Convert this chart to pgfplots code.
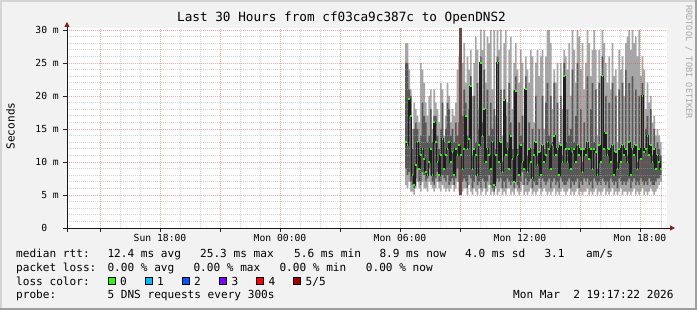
\documentclass[border=0pt]{standalone}
\usepackage{pgfplots}
\pgfplotsset{compat=1.18}
\usepackage{pgfplotstable}
\usepackage{fontspec}
\setmainfont{DejaVu Sans Mono}
\setmonofont{DejaVu Sans Mono}
\setsansfont{DejaVu Sans Mono}
\usetikzlibrary{arrows.meta}
\definecolor{bgc}{HTML}{F2F2F2}
\definecolor{shadeA}{HTML}{D4D4D4}
\definecolor{shadeB}{HTML}{9E9E9E}
\definecolor{smokeL}{HTML}{A6A6A6}
\definecolor{smokeD}{HTML}{585858}
\definecolor{medline}{HTML}{1E1E1E}
\definecolor{medgreen}{HTML}{26FF00}
\definecolor{mgrid}{HTML}{EE4444}
\definecolor{ngrid}{HTML}{A8A8A8}
\definecolor{arrowc}{HTML}{8B1A1A}
\definecolor{lossbar}{HTML}{6E4848}
\definecolor{lc1}{HTML}{00B8FF}
\definecolor{lc2}{HTML}{0059FF}
\definecolor{lc3}{HTML}{7E00FF}
\definecolor{lc4}{HTML}{FF0000}
\definecolor{lc5}{HTML}{A10000}
\definecolor{wmark}{HTML}{A8A8A8}

% k = 5-minute step index from Mon 06:15; p1..p5 = sorted DNS replies (ms)
\pgfplotstableread{
k p1 p2 p3 p4 p5
0 6.5 9 13 25 28
1 6 8 12.5 25 28
2 7 8.5 19.5 21 24
3 5.5 7 17 20 21
4 5.5 6.5 8 12 15
5 5 6 6.5 15 19
6 6 7.5 9.5 16 18
7 7 9 13 15 17
8 6 7 9 13 16
9 5.5 6.5 11 14 25
10 7 8.5 12 19 24
11 6 8 10.5 17 22
12 6 7 8.5 16 19
13 5.5 7.5 8 13 17
14 7 9 10 14 20
15 6.5 8 12 18 21
16 6 7 8 13 15
17 5.5 6.5 16 17 21
18 6 7.5 13 17 19
19 7 8.5 10 14 18
20 6 7 8 12 16
21 5.5 7 11 15 22
22 6.5 8 13.5 19 21
23 6 7.5 9 13 14
24 5.5 7 11 15 17
25 6 8 12 19 22
26 5.5 6.5 13 18 20
27 6 7 10 14 16
28 6.5 7.5 11.5 15 18
29 5.5 6.5 8 13 17
30 6 7.5 12 16 19
31 7 9 11 14 24
32 5.5 7 12.5 16 26
33 6 8 11 15 23
34 5.5 7 9 17 25
35 6 7.5 12 21 28
36 6 7 17 19 22
37 5 6 12 14 26
38 6.5 8 13.5 18 24
39 5.5 7.5 21.5 23 27
40 5 6 9 11 20
41 6 7 12 20 25
42 5.5 8 11 13 29
43 5 6.5 8 22 27
44 6 7 12.5 15 18
45 5 6 25 26 30
46 5.5 7.5 14 16 27
47 6 7 18 24 30
48 5 6 10 12 22
49 5.5 7 12 21 29
50 6.5 8 11 14 28
51 5 6.5 9 19 30
52 5.5 6 13 15 21
53 5 5.5 6.5 18 30
54 6 7 11 12 17
55 5 7.5 25 26 30
56 5.5 7 10 13 27
57 6 7.5 13 21 30
58 5 6 8.5 10 14
59 5.5 7 19.4 21 28
60 5 6 11 17 30
61 6 7.5 12 13 19
62 6 7 9 22 27
63 5 6.5 14 16 29
64 5.5 7 10.5 12 18
65 5 6 7 20.8 25
66 6 7.5 20.8 23 28
67 5.5 6.5 11 12 24
68 5 6 8 16 22
69 5.5 7 12.5 14 27
70 6.5 8.5 10 17 25
71 5 6.5 9 10 13
72 5.5 7.5 21 23 26
73 5 6.5 8.5 11 24
74 5.5 7 12 16 22
75 6 7.5 10 12 27
76 5 6 7.5 15 26
77 5.5 7 11 12 16
78 5 6.5 13 20 25
79 5.5 6.5 9.5 11 27
80 6 7.5 11.5 15 23
81 5 6 8 9 26
82 5.5 7.5 12.5 20 27
83 6 7 10 12 15
84 5.5 6.5 11 19 26
85 5 7 13 22 30
86 5.5 7.5 12 14 30
87 5 6 9 20 28
88 5.5 7 12.5 13 18
89 6 7.5 14 22 24
90 5 6.5 11 12 22
91 5.5 7 12 19 25
92 5 6 8 10 13
93 5.5 7.5 12.5 20 25
94 6 7 10 11 18
95 5.5 6.5 23 25 27
96 5 6.5 12 13 26
97 5.5 7 10 18 24
98 6 7.5 12 14 28
99 5 6 9 15 20
100 5.5 7 11.5 24 30
101 5 6.5 12 13 27
102 5.5 7 10 17 22
103 6 7.5 12.5 25 30
104 5 6 11 12 29
105 5.5 7 12 18 24
106 5 6.5 8.5 10 28
107 5.5 7.5 12 16 21
108 5.5 7 11 12 25
109 6 7.5 13 23 30
110 5 6.5 10.5 11 28
111 5.5 7 12 18 23
112 5 6 9 22 27
113 5.5 7.5 12 13 30
114 6 7 11.5 21 27
115 5 6.5 8 9 14
116 5.5 7 12.5 22 27
117 5 6.5 10 12 23
118 5.5 7.5 23 26 30
119 6 7 12 13 28
120 5 6.5 14.4 20 25
121 5.5 7 11 12 22
122 5 6 12 19 26
123 5.5 7.5 10 11 21
124 6 7 12.5 22 28
125 5 6.5 8 9 23
126 5.5 7 11.5 20 24
127 5 6 9 10 13
128 5.5 7.5 12 21 27
129 6 7 10 11 24
130 5 6.5 12.5 22 26
131 5.5 7 11 12 20
132 5.5 6.5 12 24 28
133 5 7 10 11 29
134 5.5 7.5 13 22 30
135 5 6 8 9 27
136 5.5 7 12 23 30
137 6 7.5 11 12 28
138 5 6.5 12.5 21 29
139 5.5 7 9 10 26
140 5 6.5 12 20 30
141 5.5 7.5 10.5 11 23
142 6 7 20 22 26
143 5 6.5 11.5 12 24
144 5.5 7 12 15 18
145 5 6.5 14 17 22
146 5.5 7.5 11 12 19
147 6 7 12.5 18 20
148 5.5 6.5 10 11 16
149 5 6.5 12 15 17
150 5.5 7 9 10 14
151 6 7.5 11 13 15
152 6.5 7.5 10 12 14
153 7 8 8.9 11 13
154 7 8 8.9 11 13
}\smoke

\newcommand{\lgd}{\fontsize{11.1}{13}\selectfont}
\pgfplotsset{rrdframe/.style={
  at={(67pt,82pt)}, anchor=south west,
  scale only axis, width=600pt, height=200pt,
  xmin=-202.8, xmax=157.2, ymin=0, ymax=30.3}}
\begin{document}
\begin{tikzpicture}
\begin{scope}[x=1pt,y=1pt]
\path[use as bounding box] (0,0) rectangle (697,310);
\fill[bgc] (0,0) rectangle (697,310);
\fill[shadeA] (0,308) rectangle (697,310);
\fill[shadeA] (0,0) rectangle (2,310);
\fill[shadeB] (0,0) rectangle (697,2);
\fill[shadeB] (695,0) rectangle (697,310);
\end{scope}
\begin{axis}[
  rrdframe,
  axis background/.style={fill=white},
  axis on top,
  axis lines=left,
  x axis line style={-{Triangle[length=5pt,width=5pt,color=arrowc]}, shorten >=-8pt, shorten <=-4pt},
  y axis line style={-{Triangle[length=5pt,width=5pt,color=arrowc]}, shorten >=-6pt, shorten <=-4pt},
  axis line style={black!90, line width=0.9pt},
  xtick={-183,-147,-111,-75,-39,-3,33,69,105,141},
  xticklabels={,Sun 18:00,,Mon 00:00,,Mon 06:00,,Mon 12:00,,Mon 18:00},
  minor x tick num=2,
  ytick={0,5,...,30},
  yticklabels={0\phantom{mm},5 m,10 m,15 m,20 m,25 m,30 m},
  minor y tick num=4,
  grid=both,
  major grid style={mgrid, draw opacity=0.45, dash pattern=on 1pt off 1pt, line width=0.8pt},
  minor grid style={ngrid, draw opacity=0.5, dash pattern=on 1pt off 1pt, line width=0.8pt},
  tick align=outside, major tick length=4pt, minor tick length=0pt,
  tick style={black!85, line width=0.8pt, draw opacity=1},
  ticklabel style={font=\fontsize{9.7}{11}\selectfont},
  yticklabel style={anchor=east, inner sep=0pt, xshift=-4pt},
  xticklabel style={anchor=north, inner sep=0pt, yshift=-2pt},
]
\addplot[const plot mark left, draw=none, fill=smokeL] table[x=k,y=p5]{\smoke} \closedcycle;
\addplot[const plot mark left, draw=none, fill=smokeD] table[x=k,y=p4]{\smoke} \closedcycle;
\addplot[const plot mark left, draw=none, fill=smokeL] table[x=k,y=p2]{\smoke} \closedcycle;
\addplot[const plot mark left, draw=none, fill=white] table[x=k,y=p1]{\smoke} \closedcycle;
\end{axis}
\begin{axis}[rrdframe, hide axis]
\addplot[draw=none, fill=lossbar] coordinates {(32.4,5) (34.2,5) (34.2,30.3) (32.4,30.3)} -- cycle;
\addplot[const plot mark left, medline, line width=1.1pt] table[x=k,y=p3]{\smoke};
\addplot[only marks, mark=-, mark size=0.9pt, medgreen, mark options={line width=2pt}, skip coords between index={154}{155}] table[x expr=\thisrow{k}+0.5,y=p3]{\smoke};
\end{axis}
\begin{scope}[x=1pt,y=1pt]
\node[anchor=base, inner sep=0pt, font=\fontsize{12.7}{14}\selectfont] at (341.5,288) {Last 30 Hours from cf03ca9c387c to OpenDNS2};
\node[rotate=90, inner sep=0pt, font=\lgd] at (10.5,184) {Seconds};
\node[rotate=-90, anchor=west, inner sep=0pt, font=\fontsize{8.6}{10}\selectfont, text=wmark] at (689,305) {RRDTOOL / TOBI OETIKER};
\begin{scope}[every node/.style={anchor=base west, inner sep=0pt, font=\lgd}]
\node at (16,52.5) {median rtt:};
\node at (107.3,52.5) {12.4 ms avg};
\node at (200,52.5) {25.3 ms max};
\node at (294,52.5) {5.6 ms min};
\node at (379.3,52.5) {8.9 ms now};
\node at (465,52.5) {4.0 ms sd};
\node at (544.3,52.5) {3.1};
\node at (586,52.5) {am/s};
\node at (16,38.5) {packet loss:};
\node at (107.3,38.5) {0.00 \% avg};
\node at (193.3,38.5) {0.00 \% max};
\node at (279.3,38.5) {0.00 \% min};
\node at (365.7,38.5) {0.00 \% now};
\node at (16,24.5) {loss color:};
\node at (120,24.5) {0};
\node at (157,24.5) {1};
\node at (194,24.5) {2};
\node at (231.3,24.5) {3};
\node at (268.3,24.5) {4};
\node at (305.5,24.5) {5/5};
\node at (16,11) {probe:};
\node at (107.3,11) {5 DNS requests every 300s};
\node at (513,11) {Mon Mar\ \ 2 19:17:22 2026};
\end{scope}
\begin{scope}[line width=0.8pt]
\draw[fill=medgreen] (108.5,25.4) rectangle (115.5,32.4);
\draw[fill=lc1] (145.5,25.4) rectangle (152.5,32.4);
\draw[fill=lc2] (182.5,25.4) rectangle (189.5,32.4);
\draw[fill=lc3] (219.5,25.4) rectangle (226.5,32.4);
\draw[fill=lc4] (256.5,25.4) rectangle (263.5,32.4);
\draw[fill=lc5] (293.5,25.4) rectangle (300.5,32.4);
\end{scope}
\end{scope}
\end{tikzpicture}
\end{document}
